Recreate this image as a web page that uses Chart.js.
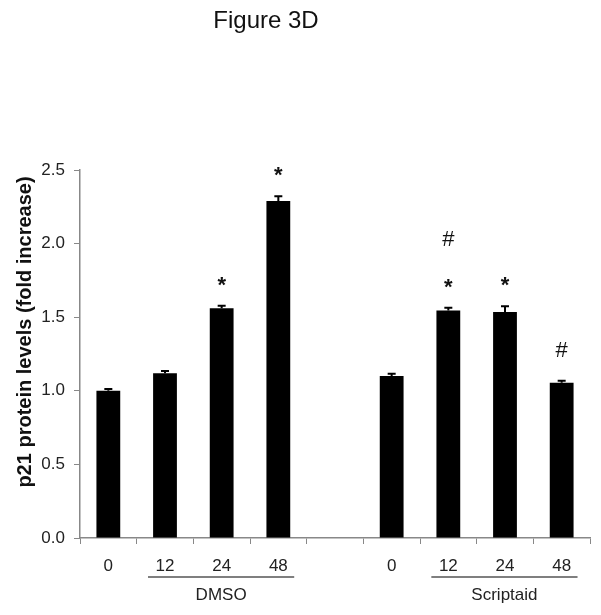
<!DOCTYPE html>
<html>
<head>
<meta charset="utf-8">
<script src="https://cdn.jsdelivr.net/npm/chart.js@4"></script>
<style>
  html, body { margin: 0; padding: 0; background: #fff; }
  #wrap { width: 601px; height: 615px; }
</style>
</head>
<body>
<div id="wrap"><canvas id="fig"></canvas></div>
<script>
// time points (h) for each treatment group
const timeLabels = ['0', '12', '24', '48'];
const groupNames = ['DMSO', 'Scriptaid'];

// p21 fold increase
const dmsoValues = [1.00, 1.12, 1.56, 2.29];
const dmsoErrors = [0.012, 0.014, 0.018, 0.032];
const scriptaidValues = [1.10, 1.545, 1.535, 1.055];
const scriptaidErrors = [0.015, 0.02, 0.04, 0.014];

// significance marks over each bar (lower line, upper line)
const dmsoMarks = [[], [], ['*'], ['*']];
const scriptaidMarks = [[], ['*', '#'], ['*'], ['#']];

const yTicks = [0, 0.5, 1.0, 1.5, 2.0, 2.5];

// one empty slot between the groups
const labels = [...timeLabels, '', ...timeLabels];
const values = [...dmsoValues, null, ...scriptaidValues];
const errors = [...dmsoErrors, null, ...scriptaidErrors];
const marks = [...dmsoMarks, [], ...scriptaidMarks];

const extras = {
    id: 'extras',
    afterDatasetsDraw(chart) {
        const ctx = chart.ctx;
        const x = chart.scales.x;
        const y = chart.scales.y;
        const meta = chart.getDatasetMeta(0);
        ctx.save();

        // error bars (upper half only)
        ctx.strokeStyle = '#000';
        ctx.lineWidth = 2;
        meta.data.forEach((bar, i) => {
            if (values[i] == null) return;
            const top = y.getPixelForValue(values[i] + errors[i]);
            ctx.beginPath();
            ctx.moveTo(bar.x, bar.y);
            ctx.lineTo(bar.x, top);
            ctx.moveTo(bar.x - 4, top);
            ctx.lineTo(bar.x + 4, top);
            ctx.stroke();
        });

        // * and # marks
        ctx.fillStyle = '#111';
        ctx.textAlign = 'center';
        ctx.textBaseline = 'middle';
        marks.forEach((m, i) => {
            if (!m.length) return;
            const top = y.getPixelForValue(values[i] + errors[i]);
            m.forEach((s, k) => {
                ctx.font = s === '*' ? 'bold 22px Liberation Sans, Arial' : '22px Liberation Sans, Arial';
                const dy = s === '*' ? 24 : 30;
                ctx.fillText(s, meta.data[i].x, top - dy - k * 38 + (s === '*' ? 4 : 0));
            });
        });

        // group underlines and names
        const step = x.getPixelForValue(1) - x.getPixelForValue(0);
        const groups = [[1, 3], [6, 8]];
        ctx.strokeStyle = '#555';
        ctx.lineWidth = 1.5;
        ctx.font = '17px Liberation Sans, Arial';
        ctx.fillStyle = '#222';
        groups.forEach((g, k) => {
            const x0 = x.getPixelForValue(g[0]) - step * 0.3;
            const x1 = x.getPixelForValue(g[1]) + step * 0.28;
            ctx.beginPath();
            ctx.moveTo(x0, 577);
            ctx.lineTo(x1, 577);
            ctx.stroke();
            ctx.fillText(groupNames[k], (x0 + x1) / 2, 595);
        });

        // figure label
        ctx.fillStyle = '#111';
        ctx.font = '24px Liberation Sans, Arial';
        ctx.textBaseline = 'alphabetic';
        ctx.fillText('Figure 3D', 266, 28);

        // y axis title
        ctx.translate(25, 332);
        ctx.rotate(-Math.PI / 2);
        ctx.textBaseline = 'middle';
        ctx.font = 'bold 20px Liberation Sans, Arial';
        ctx.fillStyle = '#111';
        ctx.fillText('p21 protein levels (fold increase)', 0, 0);
        ctx.restore();
    }
};

new Chart(document.getElementById('fig'), {
    type: 'bar',
    data: {
        labels: labels,
        datasets: [{
            data: values,
            backgroundColor: '#000',
            borderWidth: 0,
            barPercentage: 0.42,
            categoryPercentage: 1
        }]
    },
    options: {
        responsive: true,
        maintainAspectRatio: false,
        animation: false,
        layout: { padding: { top: 170, right: 11, left: 0, bottom: 0 } },
        plugins: {
            legend: { display: false },
            tooltip: { enabled: false }
        },
        scales: {
            x: {
                afterFit: (s) => { s.height = 77; },
                border: { color: '#888', width: 1.5 },
                grid: {
                    offset: true,
                    drawOnChartArea: false,
                    drawTicks: true,
                    tickLength: 6,
                    color: '#888'
                },
                ticks: {
                    padding: 12,
                    color: '#222',
                    font: { family: 'Liberation Sans, Arial', size: 17 },
                    maxRotation: 0
                }
            },
            y: {
                min: 0,
                max: 2.5,
                afterFit: (s) => { s.width = 80; },
                afterBuildTicks: (s) => { s.ticks = yTicks.map(v => ({ value: v })); },
                border: { color: '#888', width: 1.5 },
                grid: {
                    drawOnChartArea: false,
                    tickLength: 6,
                    color: '#888'
                },
                ticks: {
                    padding: 9,
                    color: '#222',
                    font: { family: 'Liberation Sans, Arial', size: 17 },
                    callback: (v) => Number(v).toFixed(1)
                }
            }
        }
    },
    plugins: [extras]
});
</script>
</body>
</html>
